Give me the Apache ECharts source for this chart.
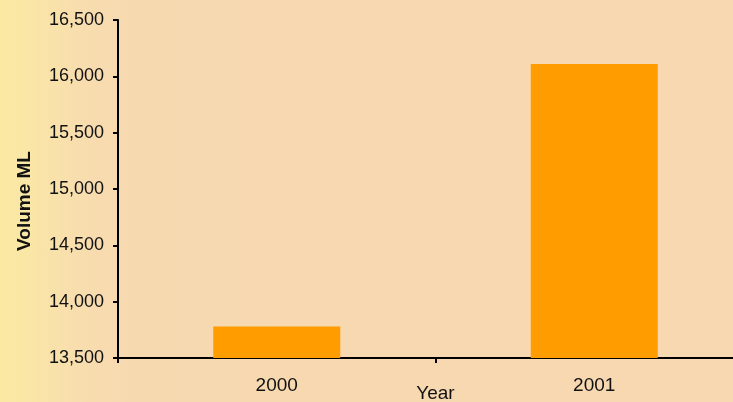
<!DOCTYPE html>
<html>
<head>
<meta charset="utf-8">
<script src="https://cdn.jsdelivr.net/npm/echarts@6/dist/echarts.min.js"></script>
<style>
html,body{margin:0;padding:0;}
body{background:linear-gradient(to right,#fbe9a3 0px,#fae6a6 30px,#f8ddae 80px,#f7d9b0 130px,#f7d8b0 100%);}
#c{width:733px;height:402px;}
</style>
</head>
<body>
<div id="c"></div>
<script>
const categories = ['2000', '2001'];
const volumes = [13780, 16110];
const yTicks = { min: 13500, max: 16500, interval: 500 };

const chart = echarts.init(document.getElementById('c'), null, {renderer: 'canvas'});
const font = '"Liberation Sans", Arial, sans-serif';
chart.setOption({
  backgroundColor: 'transparent',
  animation: false,
  grid: { left: 118, top: 20, bottom: 44, width: 635, containLabel: false, outerBoundsMode: 'none' },
  xAxis: {
    type: 'category',
    data: categories,
    name: 'Year',
    nameLocation: 'middle',
    nameGap: 26,
    nameMoveOverlap: false,
    nameTextStyle: { fontFamily: font, fontSize: 19, color: '#111' },
    axisLine: { show: true, lineStyle: { color: '#000', width: 2 } },
    axisTick: { show: true, length: 5, lineStyle: { color: '#000', width: 2 } },
    axisLabel: { fontFamily: font, fontSize: 19, color: '#111', margin: 18 },
    splitLine: { show: false }
  },
  yAxis: {
    type: 'value',
    min: yTicks.min,
    max: yTicks.max,
    interval: yTicks.interval,
    name: 'Volume ML',
    nameLocation: 'middle',
    nameGap: 84,
    nameRotate: 90,
    nameMoveOverlap: false,
    nameTextStyle: { fontFamily: font, fontSize: 19, fontWeight: 'bold', color: '#111', padding: [0, 24, 0, 0] },
    axisLine: { show: true, lineStyle: { color: '#000', width: 2 } },
    axisTick: { show: true, length: 5, lineStyle: { color: '#000', width: 2 } },
    axisLabel: {
      fontFamily: font, fontSize: 18, color: '#111', margin: 14,
      formatter: v => v.toLocaleString('en-US')
    },
    splitLine: { show: false }
  },
  series: [{
    type: 'bar',
    data: volumes,
    barWidth: 127,
    itemStyle: { color: '#ff9c00' }
  }]
});
</script>
</body>
</html>
